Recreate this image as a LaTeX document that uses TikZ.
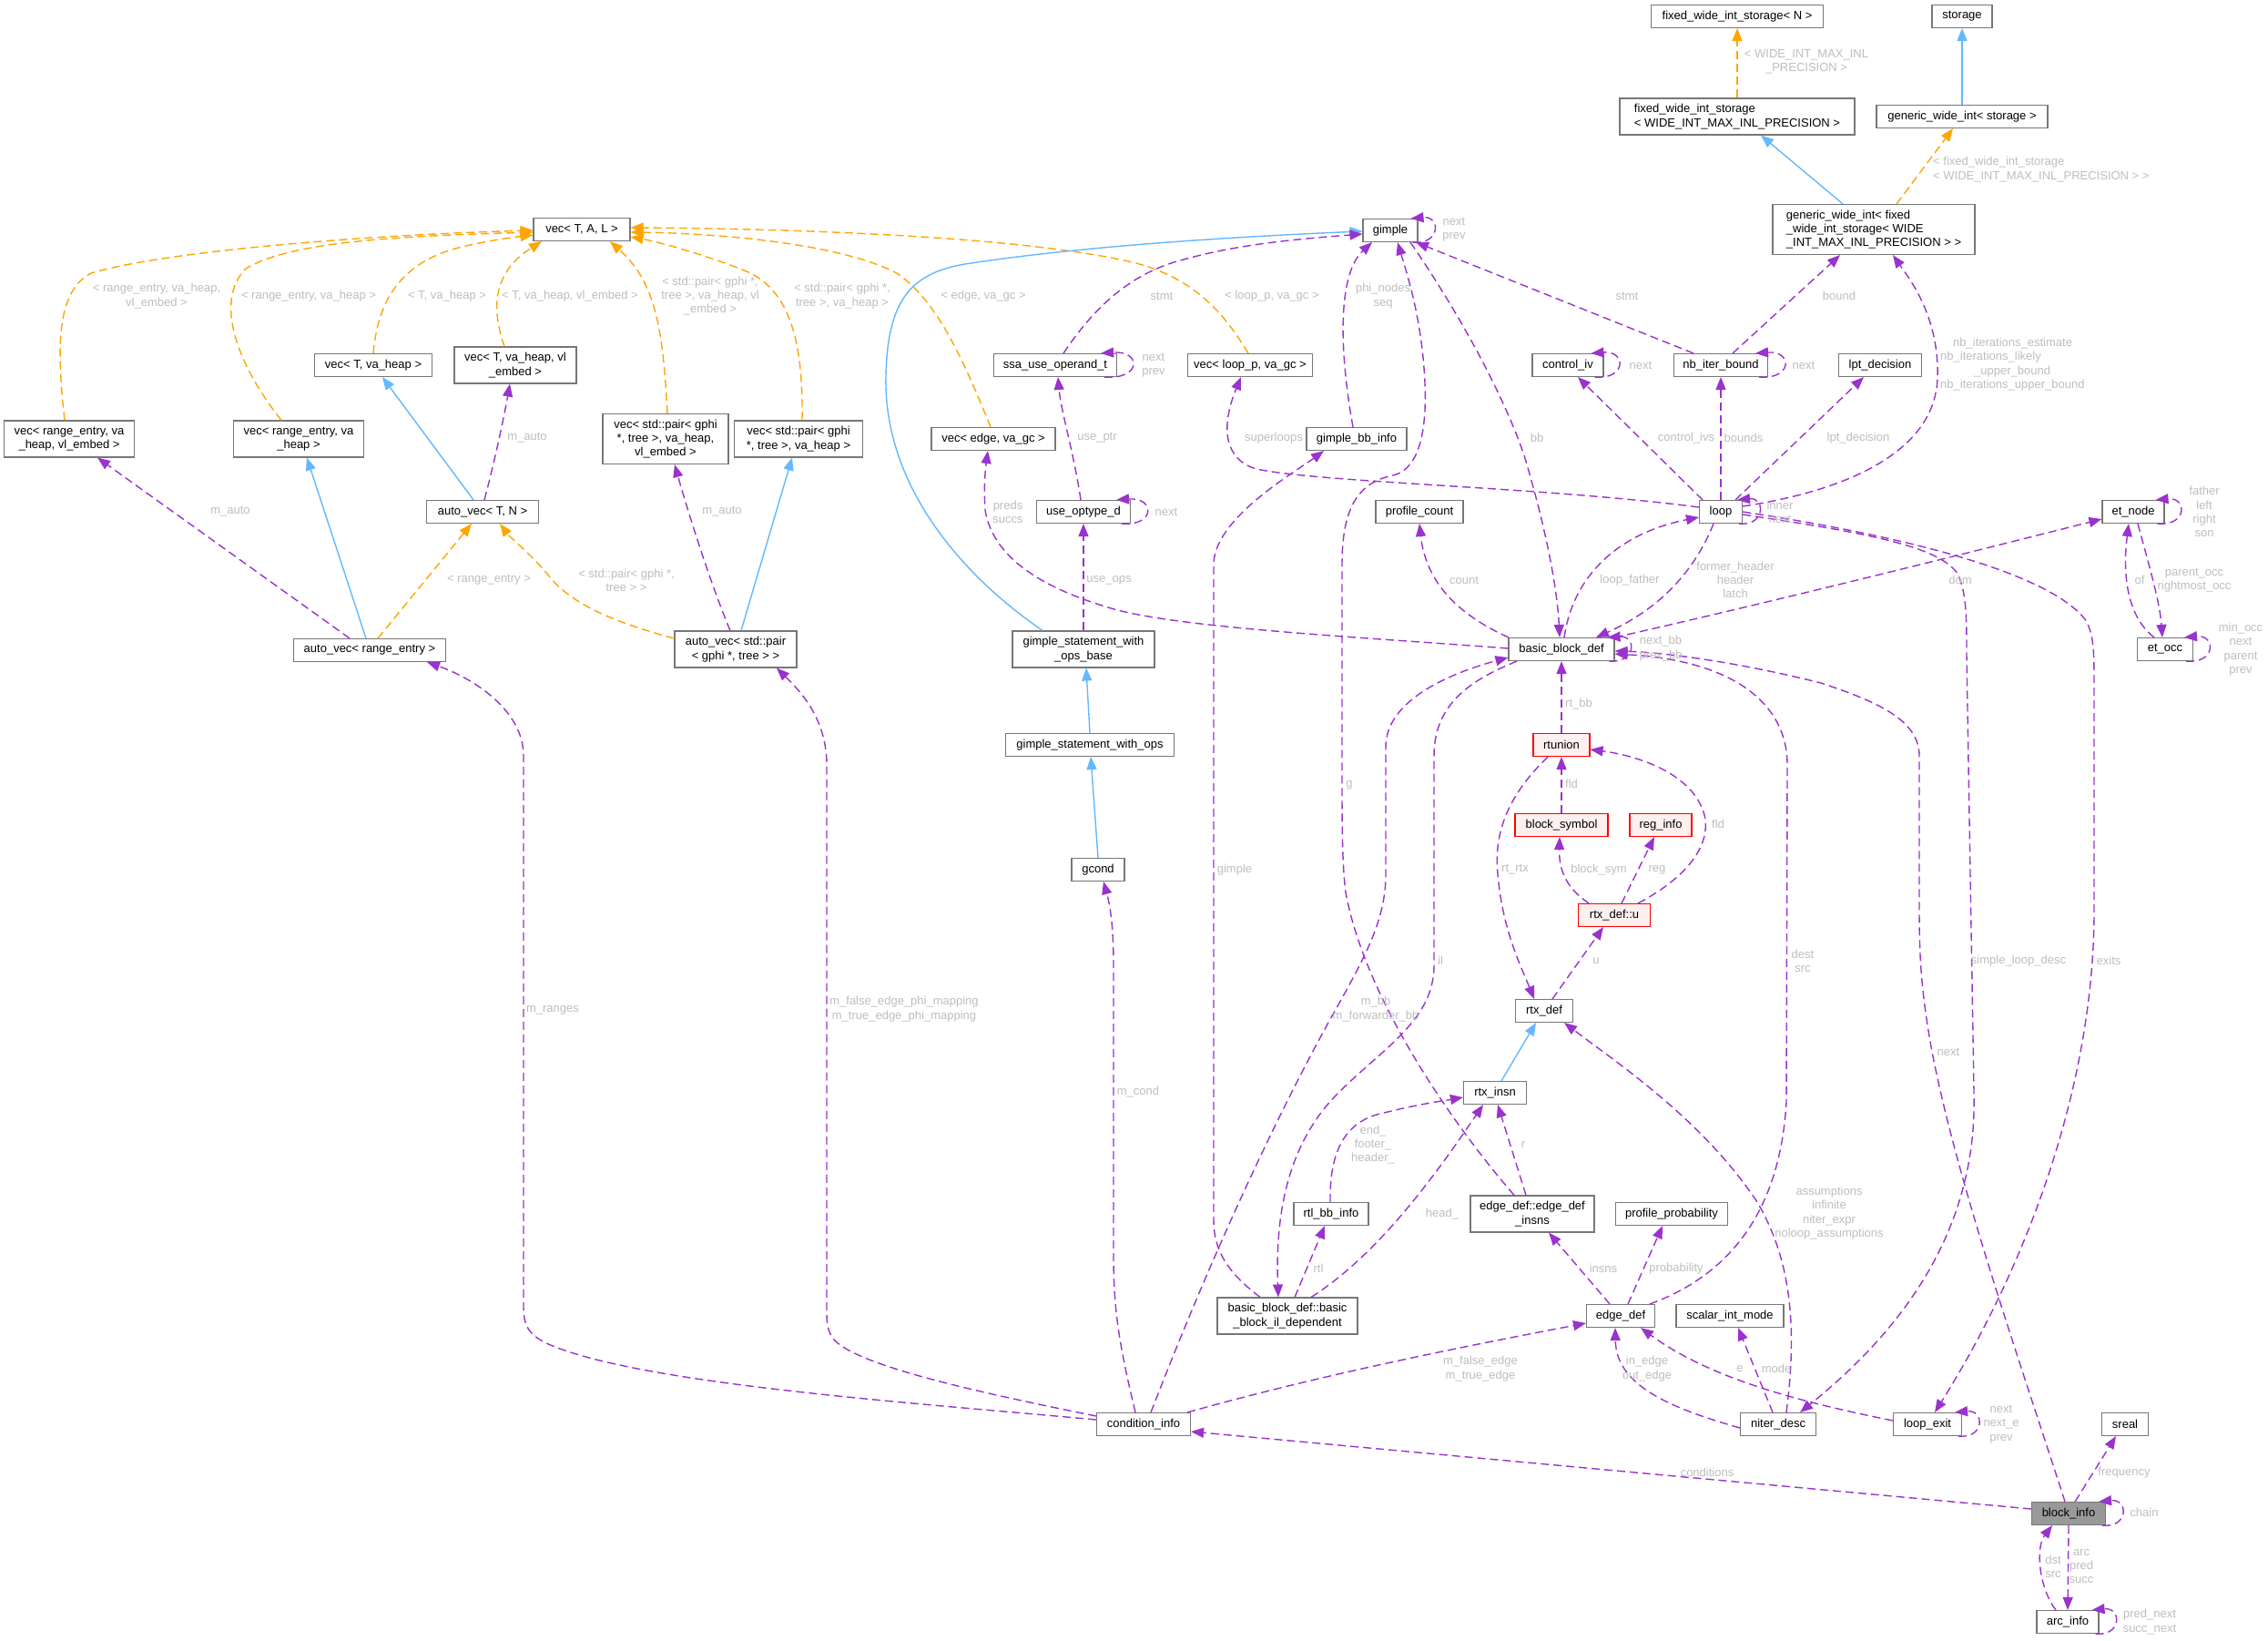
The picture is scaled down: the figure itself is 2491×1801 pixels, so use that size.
\documentclass[tikz,border=0pt]{standalone}
\usepackage{fontspec}
\setmainfont{Liberation Sans}
\usetikzlibrary{arrows.meta}
\newcommand\dxf{\fontsize{13}{15.3}\selectfont}
\definecolor{pur}{HTML}{9A32CD}
\definecolor{blu}{HTML}{63B8FF}
\definecolor{ora}{HTML}{FFA500}
\definecolor{bgr}{HTML}{777777}
\definecolor{lgr}{HTML}{BEBEBE}
\definecolor{rfill}{HTML}{FFF0F0}
\definecolor{bifill}{HTML}{999999}
\tikzset{
  box/.style={draw=bgr, fill=white, line width=1.1pt, inner xsep=5pt, inner ysep=3pt, minimum height=25pt, align=center, font=\dxf},
  rbox/.style={box, draw=red, fill=rfill},
  htwo/.style={minimum height=40pt},
  hthree/.style={minimum height=55pt},
  lbl/.style={text=lgr, font=\dxf, align=center, inner sep=1pt},
  tip/.style={-{Triangle[length=14pt,width=11pt]}},
  mem/.style={draw=pur, line width=1.4pt, dash pattern=on 9pt off 5pt, tip},
  inh/.style={draw=blu, line width=1.4pt, tip},
  tpl/.style={draw=ora, line width=1.4pt, dash pattern=on 9pt off 5pt, tip}
}
\begin{document}
\begin{tikzpicture}[x=1pt,y=-1pt]
\path[use as bounding box, fill=white] (0,0) rectangle (2491,1801);

% ---------------- nodes
\node[box,minimum width=106pt] (vecTAL) at (639,252) {vec< T, A, L >};
\node[box,minimum width=129pt] (vecTvh) at (410,401) {vec< T, va\_heap >};
\node[box,htwo,minimum width=134pt] (vecTvhvl) at (566,401) {vec< T, va\_heap, vl\\\_embed >};
\node[box,htwo,minimum width=143pt] (vecREvhvl) at (76,482) {vec< range\_entry, va\\\_heap, vl\_embed >};
\node[box,htwo,minimum width=143pt] (vecREvh) at (328,482) {vec< range\_entry, va\\\_heap >};
\node[box,minimum width=123pt] (autoTN) at (530,562) {auto\_vec< T, N >};
\node[box,minimum width=167pt] (autoRE) at (406,714) {auto\_vec< range\_entry >};
\node[box,hthree,minimum width=138pt] (vecPvhvl) at (731,482) {vec< std::pair< gphi\\{*}, tree >, va\_heap,\\vl\_embed >};
\node[box,htwo,minimum width=141pt] (vecPvh) at (877,482) {vec< std::pair< gphi\\{*}, tree >, va\_heap >};
\node[box,htwo,minimum width=134pt] (autoP) at (808,713) {auto\_vec< std::pair\\< gphi {*}, tree > >};
\node[box,minimum width=136pt] (vecEdge) at (1091,482) {vec< edge, va\_gc >};
\node[box,minimum width=135pt] (ssa) at (1159,401) {ssa\_use\_operand\_t};
\node[box,minimum width=137pt] (vecLoop) at (1373,401) {vec< loop\_p, va\_gc >};
\node[box,minimum width=103pt] (useop) at (1190,562) {use\_optype\_d};
\node[box,htwo,minimum width=156pt] (gswob) at (1190,713) {gimple\_statement\_with\\\_ops\_base};
\node[box,minimum width=185pt] (gswo) at (1197,818) {gimple\_statement\_with\_ops};
\node[box,minimum width=58pt] (gcond) at (1206,955) {gcond};
\node[box,minimum width=103pt] (cond) at (1256,1564) {condition\_info};
\node[box,minimum width=60pt] (gimple) at (1527,253) {gimple};
\node[box,minimum width=110pt] (gbb) at (1490,482) {gimple\_bb\_info};
\node[box,minimum width=96pt] (pc) at (1559,562) {profile\_count};
\node[box,minimum width=78pt] (civ) at (1722,401) {control\_iv};
\node[box,minimum width=103pt] (nib) at (1890,401) {nb\_iter\_bound};
\node[box,minimum width=91pt] (lpt) at (2065,401) {lpt\_decision};
\node[box,minimum width=47pt] (loopn) at (1890,562) {loop};
\node[box,minimum width=116pt] (bbd) at (1715,713) {basic\_block\_def};
\node[box,minimum width=68pt] (etn) at (2343,562) {et\_node};
\node[box,minimum width=61pt] (eto) at (2378,713) {et\_occ};
\node[box,minimum width=189pt] (fwisN) at (1908,18) {fixed\_wide\_int\_storage< N >};
\node[box,minimum width=66pt] (storage) at (2155,18) {storage};
\node[box,htwo,minimum width=258pt,align=left] (fwisW) at (1908,128) {fixed\_wide\_int\_storage\\< WIDE\_INT\_MAX\_INL\_PRECISION >};
\node[box,minimum width=188pt] (gwiS) at (2155,128) {generic\_wide\_int< storage >};
\node[box,hthree,minimum width=222pt,align=left] (gwiF) at (2058,252) {generic\_wide\_int< fixed\\\_wide\_int\_storage< WIDE\\\_INT\_MAX\_INL\_PRECISION > >};
\node[rbox,minimum width=62pt] (rtunion) at (1715,818) {rtunion};
\node[rbox,minimum width=102pt] (bsym) at (1715,906) {block\_symbol};
\node[rbox,minimum width=68pt] (reg) at (1824,906) {reg\_info};
\node[rbox,minimum width=79pt] (rtxu) at (1773,1005) {rtx\_def::u};
\node[box,minimum width=63pt] (rtx) at (1696,1110) {rtx\_def};
\node[box,minimum width=69pt] (rtxinsn) at (1642,1200) {rtx\_insn};
\node[box,minimum width=82pt] (rtlbb) at (1462,1333) {rtl\_bb\_info};
\node[box,htwo,minimum width=136pt] (edi) at (1683,1333) {edge\_def::edge\_def\\\_insns};
\node[box,minimum width=123pt] (pp) at (1836,1333) {profile\_probability};
\node[box,htwo,minimum width=154pt] (ild) at (1414,1445) {basic\_block\_def::basic\\\_block\_il\_dependent};
\node[box,minimum width=75pt] (edgedef) at (1780,1445) {edge\_def};
\node[box,minimum width=118pt] (sim) at (1900,1445) {scalar\_int\_mode};
\node[box,minimum width=83pt] (niter) at (1953,1564) {niter\_desc};
\node[box,minimum width=75pt] (lexit) at (2117,1564) {loop\_exit};
\node[box,minimum width=51pt] (sreal) at (2334,1564) {sreal};
\node[box,fill=bifill,minimum width=81pt] (bi) at (2272,1662) {block\_info};
\node[box,minimum width=68pt] (arcinfo) at (2271,1781) {arc\_info};

% ---------------- template instantiation edges (orange)
\draw[tpl] ([xshift=-5pt]vecREvhvl.north) .. controls (62,380) and (62,320) .. (100,300) .. controls (180,276) and (400,258) .. ([yshift=-1pt]vecTAL.west);
\draw[tpl] ([xshift=-19pt]vecREvh.north) .. controls (260,400) and (235,330) .. (270,295) .. controls (320,264) and (450,259) .. ([yshift=-3pt]vecTAL.west);
\draw[tpl] (vecTvh.north) .. controls (415,330) and (440,290) .. (500,273) .. controls (530,265) and (560,261) .. ([yshift=-6pt]vecTAL.west);
\draw[tpl] ([xshift=-12pt]vecTvhvl.north) .. controls (540,340) and (540,300) .. ([xshift=-44pt]vecTAL.south);
\draw[tpl] ([xshift=2pt]vecPvhvl.north) .. controls (728,360) and (720,310) .. ([xshift=31pt]vecTAL.south);
\draw[tpl] ([xshift=4pt]vecPvh.north) .. controls (882,380) and (870,320) .. (820,298) .. controls (770,278) and (720,265) .. ([yshift=-8pt]vecTAL.east);
\draw[tpl] ([xshift=-3pt]vecEdge.north) .. controls (1060,400) and (1030,330) .. (985,300) .. controls (920,266) and (780,256) .. ([yshift=-3pt]vecTAL.east);
\draw[tpl] ([xshift=-2pt]vecLoop.north) .. controls (1345,345) and (1310,300) .. (1230,285) .. controls (1100,258) and (850,251) .. ([yshift=2pt]vecTAL.east);
\draw[tpl] ([xshift=9pt]autoRE.north) -- ([xshift=-12pt]autoTN.south);
\draw[tpl] ([yshift=12pt]autoP.west) .. controls (680,685) and (630,665) .. (605,635) .. controls (585,610) and (560,590) .. ([xshift=19pt]autoTN.south);
\draw[tpl] (fwisW.north) -- (fwisN.south);
\draw[tpl] ([xshift=25pt]gwiF.north) -- ([xshift=-10pt]gwiS.south);

% ---------------- inheritance edges (blue)
\draw[inh] ([xshift=-10pt]autoTN.north) -- ([xshift=10pt]vecTvh.south);
\draw[inh] ([xshift=-4pt]autoRE.north) -- ([xshift=9pt]vecREvh.south);
\draw[inh] ([xshift=6pt]autoP.north) -- ([xshift=-7pt]vecPvh.south);
\draw[inh] ([xshift=-45pt]gswob.north) .. controls (1040,620) and (970,520) .. (973,412) .. controls (975,330) and (1000,300) .. (1060,290) .. controls (1200,268) and (1400,258) .. ([yshift=-1pt]gimple.west);
\draw[inh] (gswo.north) -- ([xshift=3pt]gswob.south);
\draw[inh] (gcond.north) -- ([xshift=1pt]gswo.south);
\draw[inh] ([xshift=-34pt]gwiF.north) -- ([xshift=26pt]fwisW.south);
\draw[inh] (gwiS.north) -- (storage.south);
\draw[inh] ([xshift=7pt]rtxinsn.north) -- ([xshift=-9pt]rtx.south);

% ---------------- member edges (purple)
\draw[mem] ([xshift=-22pt]autoRE.north) -- ([xshift=31pt]vecREvhvl.south);
\draw[mem] ([xshift=2pt]autoTN.north) .. controls (545,500) and (555,450) .. ([xshift=-6pt]vecTvhvl.south);
\draw[mem] ([xshift=-6pt]autoP.north) .. controls (780,640) and (755,560) .. ([xshift=10pt]vecPvhvl.south);
\draw[mem] ([xshift=-6pt]gimple.south east) .. controls ([xshift=25pt,yshift=-3pt]gimple.south east) and ([xshift=25pt,yshift=3pt]gimple.north east) .. ([xshift=-8pt]gimple.north east);
\draw[mem] ([xshift=9pt]ssa.north) .. controls (1200,340) and (1240,300) .. (1300,285) .. controls (1360,268) and (1430,262) .. ([yshift=-4pt]gimple.west);
\draw[mem] ([xshift=-14pt]ssa.south east) .. controls ([xshift=27pt,yshift=-3pt]ssa.south east) and ([xshift=27pt,yshift=3pt]ssa.north east) .. ([xshift=-18pt]ssa.north east);
\draw[mem] ([xshift=-3pt]useop.north) .. controls (1180,500) and (1165,450) .. ([xshift=3pt]ssa.south);
\draw[mem] ([xshift=-10pt]useop.south east) .. controls ([xshift=27pt,yshift=-3pt]useop.south east) and ([xshift=27pt,yshift=3pt]useop.north east) .. ([xshift=-16pt]useop.north east);
\draw[mem] (gswob.north) -- (useop.south);
\draw[mem] ([yshift=1pt]bbd.west) .. controls (1500,700) and (1300,690) .. (1224,669) .. controls (1140,645) and (1090,610) .. (1082,560) .. controls (1080,530) and (1083,510) .. ([xshift=-6pt]vecEdge.south);
\draw[mem] ([yshift=5pt]loopn.west) .. controls (1700,535) and (1450,530) .. (1380,515) .. controls (1345,505) and (1340,470) .. ([xshift=-10pt]vecLoop.south);
\draw[mem] ([xshift=-4pt]gbb.north) .. controls (1470,380) and (1470,300) .. ([xshift=-20pt]gimple.south);
\draw[mem] ([xshift=-30pt]ild.north) .. controls (1345,1395) and (1333,1370) .. (1333,1340) -- (1333,620) .. controls (1333,570) and (1420,520) .. ([xshift=-36pt]gbb.south);
\draw[mem] ([xshift=-20pt]edi.north) .. controls (1600,1240) and (1500,1100) .. (1478,980) .. controls (1474,950) and (1474,900) .. (1474,860) -- (1474,620) .. controls (1474,560) and (1490,530) .. (1530,522) .. controls (1560,515) and (1567,470) .. (1565,421) .. controls (1562,350) and (1545,300) .. ([xshift=8pt]gimple.south);
\draw[mem] ([xshift=22pt]gimple.south) .. controls (1600,340) and (1650,430) .. (1674,500) .. controls (1695,570) and (1710,640) .. ([xshift=-2pt]bbd.north);
\draw[mem] ([xshift=-30pt]nib.north) -- ([xshift=28pt]gimple.south);
\draw[mem] ([xshift=13pt]nib.north) -- ([xshift=-37pt]gwiF.south);
\draw[mem] ([xshift=-10pt]nib.south east) .. controls ([xshift=27pt,yshift=-3pt]nib.south east) and ([xshift=27pt,yshift=3pt]nib.north east) .. ([xshift=-14pt]nib.north east);
\draw[mem] ([xshift=-10pt]civ.south east) .. controls ([xshift=25pt,yshift=-3pt]civ.south east) and ([xshift=25pt,yshift=3pt]civ.north east) .. ([xshift=-14pt]civ.north east);
\draw[mem] ([xshift=-20pt]loopn.north) -- ([xshift=11pt]civ.south);
\draw[mem] (loopn.north) -- (nib.south);
\draw[mem] ([xshift=16pt]loopn.north) -- ([xshift=-18pt]lpt.south);
\draw[mem] ([yshift=6pt]loopn.east) .. controls (2020,540) and (2125,500) .. (2128,415) .. controls (2130,350) and (2100,310) .. ([xshift=21pt]gwiF.south);
\draw[mem] ([xshift=-4pt]loopn.south east) .. controls ([xshift=25pt,yshift=-3pt]loopn.south east) and ([xshift=25pt,yshift=3pt]loopn.north east) .. ([xshift=-6pt]loopn.north east);
\draw[mem] ([xshift=3pt]bbd.north) .. controls (1728,630) and (1780,585) .. ([yshift=-6pt]loopn.west);
\draw[mem] ([xshift=-8pt]loopn.south) .. controls (1860,630) and (1820,670) .. ([xshift=38pt]bbd.north);
\draw[mem] ([xshift=-58pt]bbd.north) .. controls (1590,670) and (1565,630) .. (pc.south);
\draw[mem] (bbd.north east) .. controls (1950,660) and (2150,610) .. ([yshift=-8pt]etn.west);
\draw[mem] ([xshift=-8pt]etn.south east) .. controls ([xshift=25pt,yshift=-3pt]etn.south east) and ([xshift=25pt,yshift=3pt]etn.north east) .. ([xshift=-10pt]etn.north east);
\draw[mem] ([xshift=-12pt]eto.north) .. controls (2340,680) and (2330,640) .. ([xshift=-5pt]etn.south);
\draw[mem] ([xshift=5pt]etn.south) .. controls (2360,620) and (2372,660) .. ([xshift=-3pt]eto.north);
\draw[mem] ([xshift=-8pt]eto.south east) .. controls ([xshift=25pt,yshift=-3pt]eto.south east) and ([xshift=25pt,yshift=3pt]eto.north east) .. ([xshift=-10pt]eto.north east);
\draw[mem] ([xshift=-6pt]bbd.south east) .. controls ([xshift=24pt,yshift=-2pt]bbd.south east) and ([xshift=24pt,yshift=2pt]bbd.north east) .. ([xshift=-8pt]bbd.north east);
\draw[mem] (rtunion.north) -- (bbd.south);
\draw[mem] (bsym.north) -- (rtunion.south);
\draw[mem] ([xshift=-15pt]rtunion.south) .. controls (1660,870) and (1640,910) .. (1645,960) .. controls (1650,1020) and (1670,1060) .. ([xshift=-11pt]rtx.north);
\draw[mem] ([xshift=-28pt]rtxu.north) .. controls (1720,975) and (1712,955) .. ([xshift=-2pt]bsym.south);
\draw[mem] ([xshift=8pt]rtxu.north) -- ([xshift=-7pt]reg.south);
\draw[mem] ([xshift=26pt]rtxu.north) .. controls (1850,965) and (1880,930) .. (1872,895) .. controls (1860,850) and (1800,830) .. ([yshift=-5pt]rtunion.east);
\draw[mem] ([xshift=9pt]rtx.north) -- ([xshift=-12pt]rtxu.south);
\draw[mem] ([xshift=-1pt]rtlbb.north) .. controls (1460,1260) and (1480,1230) .. (1520,1222) .. controls (1560,1212) and (1590,1208) .. ([yshift=-5pt]rtxinsn.west);
\draw[mem] ([xshift=-7pt]edi.north) -- ([xshift=3pt]rtxinsn.south);
\draw[mem] ([xshift=26pt]ild.north) .. controls (1510,1380) and (1570,1300) .. ([xshift=-13pt]rtxinsn.south);
\draw[mem] ([xshift=8pt]ild.north) -- ([xshift=-7pt]rtlbb.south);
\draw[mem] ([xshift=-49pt]bbd.south) .. controls (1620,745) and (1575,770) .. (1575,830) -- (1575,1060) .. controls (1575,1120) and (1520,1150) .. (1470,1200) .. controls (1420,1250) and (1400,1320) .. ([xshift=-10pt]ild.north);
\draw[mem] ([xshift=8pt]cond.north) .. controls (1330,1380) and (1400,1230) .. (1460,1121) .. controls (1500,1050) and (1522,1010) .. (1522,960) -- (1522,820) .. controls (1522,770) and (1590,740) .. ([yshift=-9pt]bbd.west);
\draw[mem] ([xshift=-9pt]cond.north) .. controls (1230,1480) and (1223,1440) .. (1223,1380) -- (1223,1060) .. controls (1223,1010) and (1218,990) .. ([xshift=6pt]gcond.south);
\draw[mem] ([yshift=5pt]cond.west) .. controls (1000,1540) and (700,1520) .. (600,1475) .. controls (580,1465) and (575,1455) .. (575,1435) -- (575,830) .. controls (575,780) and (520,745) .. ([xshift=63pt]autoRE.south);
\draw[mem] ([yshift=9pt]cond.west) .. controls (1080,1530) and (940,1500) .. (915,1470) .. controls (908,1460) and (908,1450) .. (908,1440) -- (908,840) .. controls (908,790) and (880,760) .. ([xshift=45pt]autoP.south);
\draw[mem] ([xshift=-4pt]cond.north east) .. controls (1450,1510) and (1600,1480) .. ([yshift=-8pt]edgedef.west);
\draw[mem] ([yshift=5pt]bi.west) -- ([yshift=-8pt]cond.east);
\draw[mem] ([xshift=-12pt]edgedef.north) -- ([xshift=18pt]edi.south);
\draw[mem] ([xshift=8pt]edgedef.north) -- ([xshift=-10pt]pp.south);
\draw[mem] ([xshift=32pt]edgedef.north) .. controls (1900,1400) and (1955,1330) .. (1962,1210) -- (1963,840) .. controls (1963,770) and (1900,725) .. ([yshift=-5pt]bbd.east);
\draw[mem] ([xshift=-4pt]bi.north) .. controls (2220,1500) and (2150,1300) .. (2122,1155) .. controls (2110,1090) and (2108,1050) .. (2108,1000) -- (2108,830) .. controls (2108,790) and (2060,770) .. (2000,750) .. controls (1900,725) and (1820,716) .. ([yshift=-2pt]bbd.east);
\draw[mem] ([yshift=-3pt]loopn.east) .. controls (2050,585) and (2130,600) .. (2150,630) .. controls (2160,650) and (2160,680) .. (2160,720) -- (2168,1200) .. controls (2172,1350) and (2090,1460) .. ([xshift=24pt]niter.north);
\draw[mem] (loopn.east) .. controls (2100,590) and (2250,630) .. (2290,680) .. controls (2299,695) and (2300,710) .. (2300,750) -- (2300,1000) .. controls (2300,1200) and (2220,1400) .. ([xshift=8pt]lexit.north);
\draw[mem] ([yshift=4pt]lexit.west) .. controls (1980,1540) and (1880,1515) .. ([xshift=22pt]edgedef.south);
\draw[mem] ([yshift=-4pt]niter.west) .. controls (1830,1545) and (1775,1520) .. ([xshift=-6pt]edgedef.south);
\draw[mem] ([xshift=-6pt]niter.north) -- ([xshift=9pt]sim.south);
\draw[mem] ([xshift=9pt]niter.north) .. controls (1975,1450) and (1965,1380) .. (1930,1320) .. controls (1870,1230) and (1780,1170) .. ([xshift=22pt]rtx.south);
\draw[mem] ([xshift=-4pt]lexit.south east) .. controls ([xshift=25pt,yshift=-3pt]lexit.south east) and ([xshift=25pt,yshift=3pt]lexit.north east) .. ([xshift=-8pt]lexit.north east);
\draw[mem] ([xshift=7pt]bi.north) -- ([xshift=-10pt]sreal.south);
\draw[mem] ([xshift=-4pt]bi.south east) .. controls ([xshift=25pt,yshift=-3pt]bi.south east) and ([xshift=25pt,yshift=3pt]bi.north east) .. ([xshift=-8pt]bi.north east);
\draw[mem] ([xshift=-13pt]arcinfo.north) .. controls (2240,1745) and (2235,1700) .. ([xshift=-18pt]bi.south);
\draw[mem] (bi.south) -- (arcinfo.north);
\draw[mem] ([xshift=-4pt]arcinfo.south east) .. controls ([xshift=25pt,yshift=-3pt]arcinfo.south east) and ([xshift=25pt,yshift=3pt]arcinfo.north east) .. ([xshift=-8pt]arcinfo.north east);

% ---------------- edge labels
\node[lbl] (t1) at (172,325) {< range\_entry, va\_heap,\\vl\_embed >};
\node[lbl] (t2) at (339,325) {< range\_entry, va\_heap >};
\node[lbl] (t3) at (491,325) {< T, va\_heap >};
\node[lbl] (t4) at (626,325) {< T, va\_heap, vl\_embed >};
\node[lbl] (t5) at (780,325) {< std::pair< gphi {*},\\tree >, va\_heap, vl\\\_embed >};
\node[lbl] (t6) at (925,325) {< std::pair< gphi {*},\\tree >, va\_heap >};
\node[lbl] (t7) at (1080,325) {< edge, va\_gc >};
\node[lbl] (t8) at (1397,325) {< loop\_p, va\_gc >};
\node[lbl] (t9) at (537,637) {< range\_entry >};
\node[lbl] (t10) at (688,637) {< std::pair< gphi {*},\\tree > >};
\node[lbl] (t11) at (1984,68) {< WIDE\_INT\_MAX\_INL\\\_PRECISION >};
\node[lbl,anchor=west,align=left] (t12) at (2122,186) {< fixed\_wide\_int\_storage\\< WIDE\_INT\_MAX\_INL\_PRECISION > >};
\node[lbl] (m1) at (579,481) {m\_auto};
\node[lbl] (m2) at (253,562) {m\_auto};
\node[lbl] (m3) at (793,562) {m\_auto};
\node[lbl] (m4) at (1597,252) {next\\prev};
\node[lbl] (m5) at (1276,325) {stmt};
\node[lbl] (m6) at (1267,401) {next\\prev};
\node[lbl] (m7) at (1205,481) {use\_ptr};
\node[lbl] (m8) at (1281,562) {next};
\node[lbl] (m9) at (1218,637) {use\_ops};
\node[lbl] (m10) at (1107,562) {preds\\succs};
\node[lbl] (m11) at (1399,481) {superloops};
\node[lbl] (m12) at (1519,325) {phi\_nodes\\seq};
\node[lbl] (m13) at (1356,955) {gimple};
\node[lbl] (m14) at (1482,862) {g};
\node[lbl] (m15) at (1688,481) {bb};
\node[lbl] (m16) at (1787,325) {stmt};
\node[lbl] (m17) at (2020,325) {bound};
\node[lbl] (m18) at (1981,401) {next};
\node[lbl] (m19) at (1802,401) {next};
\node[lbl] (m20) at (1852,481) {control\_ivs};
\node[lbl] (m21) at (1915,481) {bounds};
\node[lbl] (m22) at (2041,481) {lpt\_decision};
\node[lbl,anchor=west,align=left] (m23) at (2130,400) {\hspace*{14pt}nb\_iterations\_estimate\\nb\_iterations\_likely\\\hspace*{37pt}\_upper\_bound\\nb\_iterations\_upper\_bound};
\node[lbl] (m24) at (1955,562) {inner\\next};
\node[lbl] (m25) at (1790,637) {loop\_father};
\node[lbl] (m26) at (1906,637) {former\_header\\header\\latch};
\node[lbl] (m27) at (1608,637) {count};
\node[lbl] (m28) at (2153,637) {dom};
\node[lbl] (m29) at (2421,562) {father\\left\\right\\son};
\node[lbl] (m30) at (2350,637) {of};
\node[lbl] (m31) at (2410,637) {parent\_occ\\rightmost\_occ};
\node[lbl] (m32) at (2461,713) {min\_occ\\next\\parent\\prev};
\node[lbl] (m33) at (1824,712) {next\_bb\\prev\_bb};
\node[lbl] (m34) at (1734,773) {rt\_bb};
\node[lbl] (m35) at (1726,861) {fld};
\node[lbl] (m36) at (1664,955) {rt\_rtx};
\node[lbl] (m37) at (1756,955) {block\_sym};
\node[lbl] (m38) at (1820,955) {reg};
\node[lbl] (m39) at (1887,905) {fld};
\node[lbl] (m40) at (1753,1055) {u};
\node[lbl] (m41) at (1508,1257) {end\_\\footer\_\\header\_};
\node[lbl] (m42) at (1673,1257) {r};
\node[lbl] (m43) at (1584,1333) {head\_};
\node[lbl] (m44) at (1448,1393) {rtl};
\node[lbl] (m45) at (1582,1055) {il};
\node[lbl] (m46) at (1511,1108) {m\_bb\\m\_forwarder\_bb};
\node[lbl] (m47) at (1250,1199) {m\_cond};
\node[lbl] (m48) at (607,1109) {m\_ranges};
\node[lbl] (m49) at (993,1108) {m\_false\_edge\_phi\_mapping\\m\_true\_edge\_phi\_mapping};
\node[lbl] (m50) at (1626,1503) {m\_false\_edge\\m\_true\_edge};
\node[lbl] (m51) at (1875,1617) {conditions};
\node[lbl] (m52) at (1761,1393) {insns};
\node[lbl] (m53) at (1841,1393) {probability};
\node[lbl] (m54) at (1980,1055) {dest\\src};
\node[lbl] (m55) at (2140,1155) {next};
\node[lbl] (m56) at (2217,1055) {simple\_loop\_desc};
\node[lbl] (m57) at (2316,1055) {exits};
\node[lbl] (m58) at (1911,1503) {e};
\node[lbl] (m59) at (1809,1503) {in\_edge\\out\_edge};
\node[lbl] (m60) at (1951,1503) {mode};
\node[lbl] (m61) at (2009,1332) {assumptions\\infinite\\niter\_expr\\noloop\_assumptions};
\node[lbl] (m62) at (2198,1564) {next\\next\_e\\prev};
\node[lbl] (m63) at (2333,1617) {frequency};
\node[lbl] (m64) at (2355,1661) {chain};
\node[lbl] (m65) at (2255,1720) {dst\\src};
\node[lbl] (m66) at (2286,1720) {arc\\pred\\succ};
\node[lbl] (m67) at (2361,1781) {pred\_next\\succ\_next};
\end{tikzpicture}
\end{document}
